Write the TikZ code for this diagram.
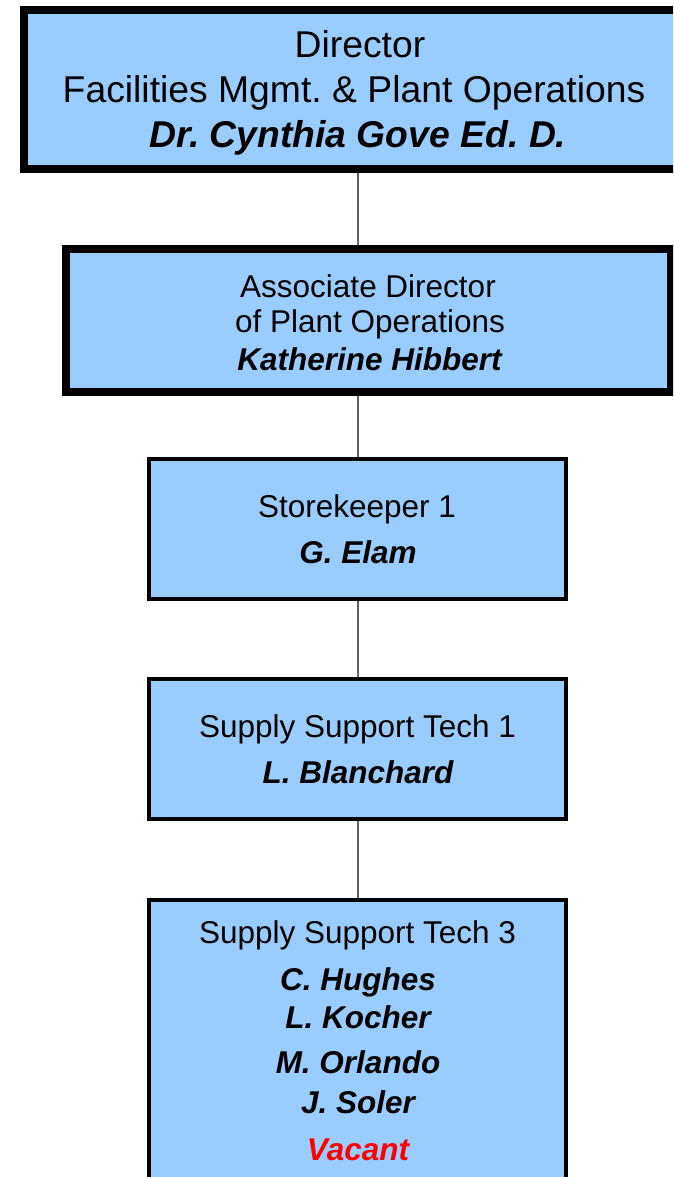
\documentclass[tikz,border=0pt]{standalone}
\usepackage{fontspec}
\setmainfont{Liberation Sans}
\frenchspacing
\definecolor{boxblue}{HTML}{99CCFF}
\definecolor{vacred}{HTML}{FF0000}
\tikzset{
  orgbox/.style={draw=black, fill=boxblue, rectangle, inner sep=0pt},
  bigbox/.style={orgbox, line width=8pt},
  smallbox/.style={orgbox, line width=4pt},
  conn/.style={draw=black!62, line width=1.4pt},
  bigtxt/.style={anchor=base, inner sep=0pt, font=\fontsize{37.3}{44}\selectfont},
  txt/.style={anchor=base, inner sep=0pt, font=\fontsize{31.5}{38}\selectfont},
  nametxt/.style={txt, font=\fontsize{31.5}{38}\selectfont\bfseries\itshape},
}
\begin{document}
\begin{tikzpicture}[x=1pt,y=-1pt]
\useasboundingbox (0,0) rectangle (673,1177);
\clip (0,0) rectangle (673,1177);
% boxes
\node[bigbox, minimum width=690pt, minimum height=159pt] (b1) at (369,89.5) {};
\node[bigbox, minimum width=605pt, minimum height=143pt] (b2) at (368.5,320.5) {};
\node[smallbox, minimum width=417pt, minimum height=140pt] (b3) at (357.5,529) {};
\node[smallbox, minimum width=417pt, minimum height=140pt] (b4) at (357.5,749) {};
\node[smallbox, minimum width=417pt, minimum height=300pt] (b5) at (357.5,1050) {};
% connectors
\coordinate (c1) at (358,0);
\draw[conn] (b1.south -| c1) -- (b2.north -| c1);
\draw[conn] (b2.south -| c1) -- (b3.north -| c1);
\draw[conn] (b3.south -| c1) -- (b4.north -| c1);
\draw[conn] (b4.south -| c1) -- (b5.north -| c1);
% box 1 text
\node[bigtxt] (t1a) at (360,58) {Director};
\node[bigtxt] (t1b) at (354,102.5) {Facilities Mgmt. \& Plant Operations};
\node[bigtxt, font=\fontsize{37.3}{44}\selectfont\bfseries\itshape] (t1c) at (358,148) {Dr. Cynthia Gove Ed. D.};
% box 2 text
\node[txt] (t2a) at (368,297) {Associate Director};
\node[txt] (t2b) at (370,332) {of Plant Operations};
\node[nametxt] (t2c) at (369.5,370) {Katherine Hibbert};
% box 3 text
\node[txt] (t3a) at (357,517) {Storekeeper 1};
\node[nametxt] (t3b) at (358,563) {G. Elam};
% box 4 text
\node[txt] (t4a) at (357.5,737) {Supply Support Tech 1};
\node[nametxt] (t4b) at (358,783) {L. Blanchard};
% box 5 text
\node[txt] (t5a) at (357.5,943) {Supply Support Tech 3};
\node[nametxt] (t5b) at (358,990) {C. Hughes};
\node[nametxt] (t5c) at (358,1028) {L. Kocher};
\node[nametxt] (t5d) at (358,1073) {M. Orlando};
\node[nametxt] (t5e) at (358,1113) {J. Soler};
\node[nametxt, text=vacred] (t5f) at (358,1160) {Vacant};
\end{tikzpicture}
\end{document}
